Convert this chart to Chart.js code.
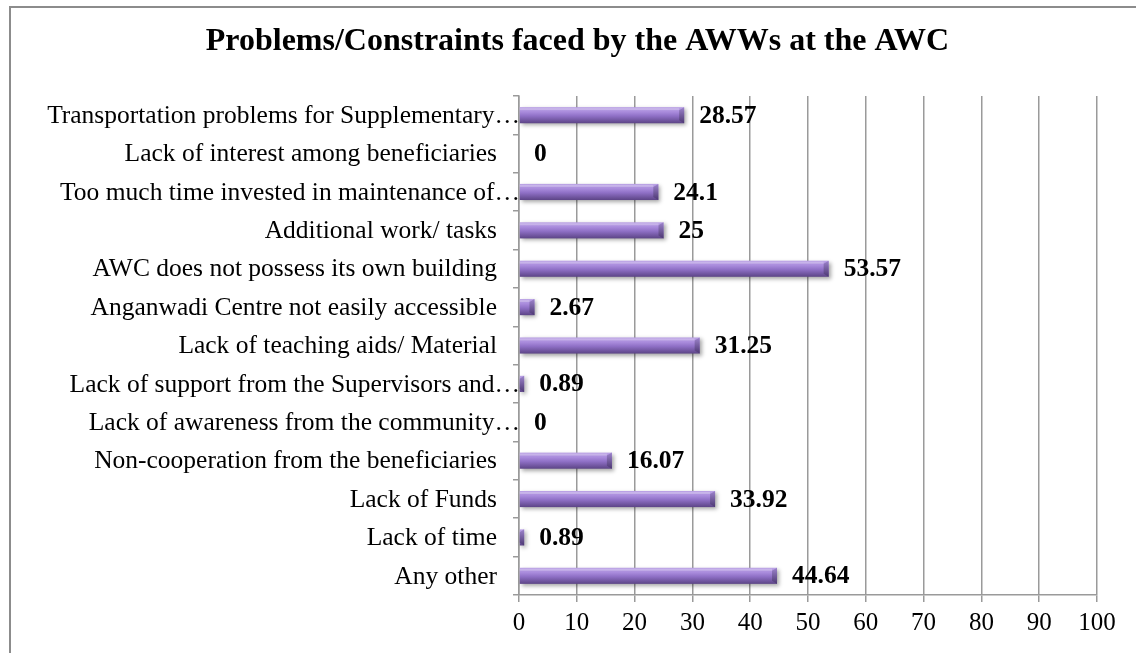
<!DOCTYPE html>
<html>
<head>
<meta charset="utf-8">
<script src="https://cdn.jsdelivr.net/npm/chart.js@4.4.1/dist/chart.umd.min.js"></script>
<style>
  html, body { margin: 0; padding: 0; background: #fff; overflow: hidden; }
  #wrap { position: relative; width: 1136px; height: 653px; }
  #frame {
    position: absolute; left: 9px; top: 6px; width: 1200px; height: 700px;
    border-left: 2px solid #8c8c8c; border-top: 2px solid #8c8c8c;
  }
  canvas { position: absolute; left: 0; top: 0; }
</style>
</head>
<body>
<div id="wrap">
  <div id="frame"></div>
  <canvas id="grafico" width="1136" height="653"></canvas>
</div>
<script>
// problemas de las AWW, de arriba hacia abajo
const categorias = [
  'Transportation problems for Supplementary…',
  'Lack of interest among beneficiaries',
  'Too much time invested in maintenance of…',
  'Additional work/ tasks',
  'AWC does not possess its own building',
  'Anganwadi Centre not easily accessible',
  'Lack of teaching aids/ Material',
  'Lack of support from the Supervisors and…',
  'Lack of awareness from the community…',
  'Non-cooperation from the beneficiaries',
  'Lack of Funds',
  'Lack of time',
  'Any other'
];
const porcentajes = [28.57, 0, 24.1, 25, 53.57, 2.67, 31.25, 0.89, 0, 16.07, 33.92, 0.89, 44.64];
const ticksX = [0, 10, 20, 30, 40, 50, 60, 70, 80, 90, 100];

const serif = '"Liberation Serif", "Times New Roman", serif';

// barras tipo cilindro: degradado vertical + tapa en el extremo
const barrasCilindro = {
  id: 'barrasCilindro',
  afterDatasetsDraw(chart) {
    const ctx = chart.ctx;
    const meta = chart.getDatasetMeta(0);
    meta.data.forEach(bar => {
      const { x, y, base, height } = bar.getProps(['x', 'y', 'base', 'height'], true);
      const w = x - base;
      if (w <= 0.5) return;
      const top = y - height / 2;
      const bot = y + height / 2;
      ctx.save();
      ctx.shadowColor = 'rgba(0,0,0,0.35)';
      ctx.shadowBlur = 4;
      ctx.shadowOffsetX = 2;
      ctx.shadowOffsetY = 2;
      const g = ctx.createLinearGradient(0, top, 0, bot);
      g.addColorStop(0, '#bca4e6');
      g.addColorStop(0.3, '#a98bdc');
      g.addColorStop(0.55, '#8f70c6');
      g.addColorStop(1, '#5c4486');
      ctx.fillStyle = g;
      ctx.fillRect(base, top, w, height);
      ctx.restore();
      // tapa del extremo derecho
      const cap = Math.min(5, w);
      const gc = ctx.createLinearGradient(0, top, 0, bot);
      gc.addColorStop(0, '#9d84cc');
      gc.addColorStop(1, '#4c3772');
      ctx.fillStyle = gc;
      ctx.beginPath();
      ctx.moveTo(x - cap, top + 3);
      ctx.lineTo(x, top);
      ctx.lineTo(x, bot);
      ctx.lineTo(x - cap, bot - 3);
      ctx.closePath();
      ctx.fill();
      // brillo superior
      ctx.fillStyle = 'rgba(255,255,255,0.25)';
      ctx.fillRect(base, top + 1, Math.max(0, w - cap), 2);
    });
  }
};

// etiquetas de valor al final de cada barra
const etiquetasValor = {
  id: 'etiquetasValor',
  afterDatasetsDraw(chart) {
    const ctx = chart.ctx;
    const meta = chart.getDatasetMeta(0);
    ctx.save();
    ctx.font = 'bold 25.5px ' + serif;
    ctx.fillStyle = '#000';
    ctx.textAlign = 'left';
    ctx.textBaseline = 'middle';
    meta.data.forEach((bar, i) => {
      ctx.fillText(String(porcentajes[i]), bar.x + 15, bar.y + 1);
    });
    ctx.restore();
  }
};

// nombres de categoria: los recortados con "…" llegan hasta el eje
const etiquetasCategoria = {
  id: 'etiquetasCategoria',
  afterDraw(chart) {
    const ctx = chart.ctx;
    const esc = chart.scales.y;
    ctx.save();
    ctx.font = '25.5px ' + serif;
    ctx.fillStyle = '#000';
    ctx.textAlign = 'right';
    ctx.textBaseline = 'middle';
    categorias.forEach((txt, i) => {
      const derecha = txt.endsWith('…') ? esc.right + 1 : esc.right - 22;
      ctx.fillText(txt, derecha, esc.getPixelForTick(i) + 1);
    });
    ctx.restore();
  }
};

new Chart(document.getElementById('grafico'), {
  type: 'bar',
  data: {
    labels: categorias,
    datasets: [{
      data: porcentajes,
      backgroundColor: 'rgba(0,0,0,0)',
      borderWidth: 0,
      categoryPercentage: 1,
      barPercentage: 0.42
    }]
  },
  options: {
    indexAxis: 'y',
    responsive: false,
    animation: false,
    layout: { padding: { left: 58, right: 39, top: 0, bottom: 0 } },
    plugins: {
      legend: { display: false },
      tooltip: { enabled: false },
      title: {
        display: true,
        text: 'Problems/Constraints faced by the AWWs at the AWC',
        color: '#000',
        font: { family: serif, size: 32, weight: 'bold' },
        padding: { top: 23, bottom: 34.6 }
      }
    },
    scales: {
      x: {
        min: 0,
        max: 100,
        afterBuildTicks: s => { s.ticks = ticksX.map(v => ({ value: v })); },
        grid: { color: '#9a9a9a', lineWidth: 1.5, tickLength: 7 },
        border: { color: '#9a9a9a', width: 1.5 },
        ticks: { color: '#000', padding: 6, font: { family: serif, size: 25 } },
        afterFit: s => { s.height = 58; }
      },
      y: {
        grid: { offset: true, drawOnChartArea: false, color: '#9a9a9a', lineWidth: 1.5, tickLength: 6 },
        border: { color: '#9a9a9a', width: 1.5 },
        ticks: { display: false },
        afterFit: s => { s.width = 461; }
      }
    }
  },
  plugins: [barrasCilindro, etiquetasValor, etiquetasCategoria]
});
</script>
</body>
</html>
